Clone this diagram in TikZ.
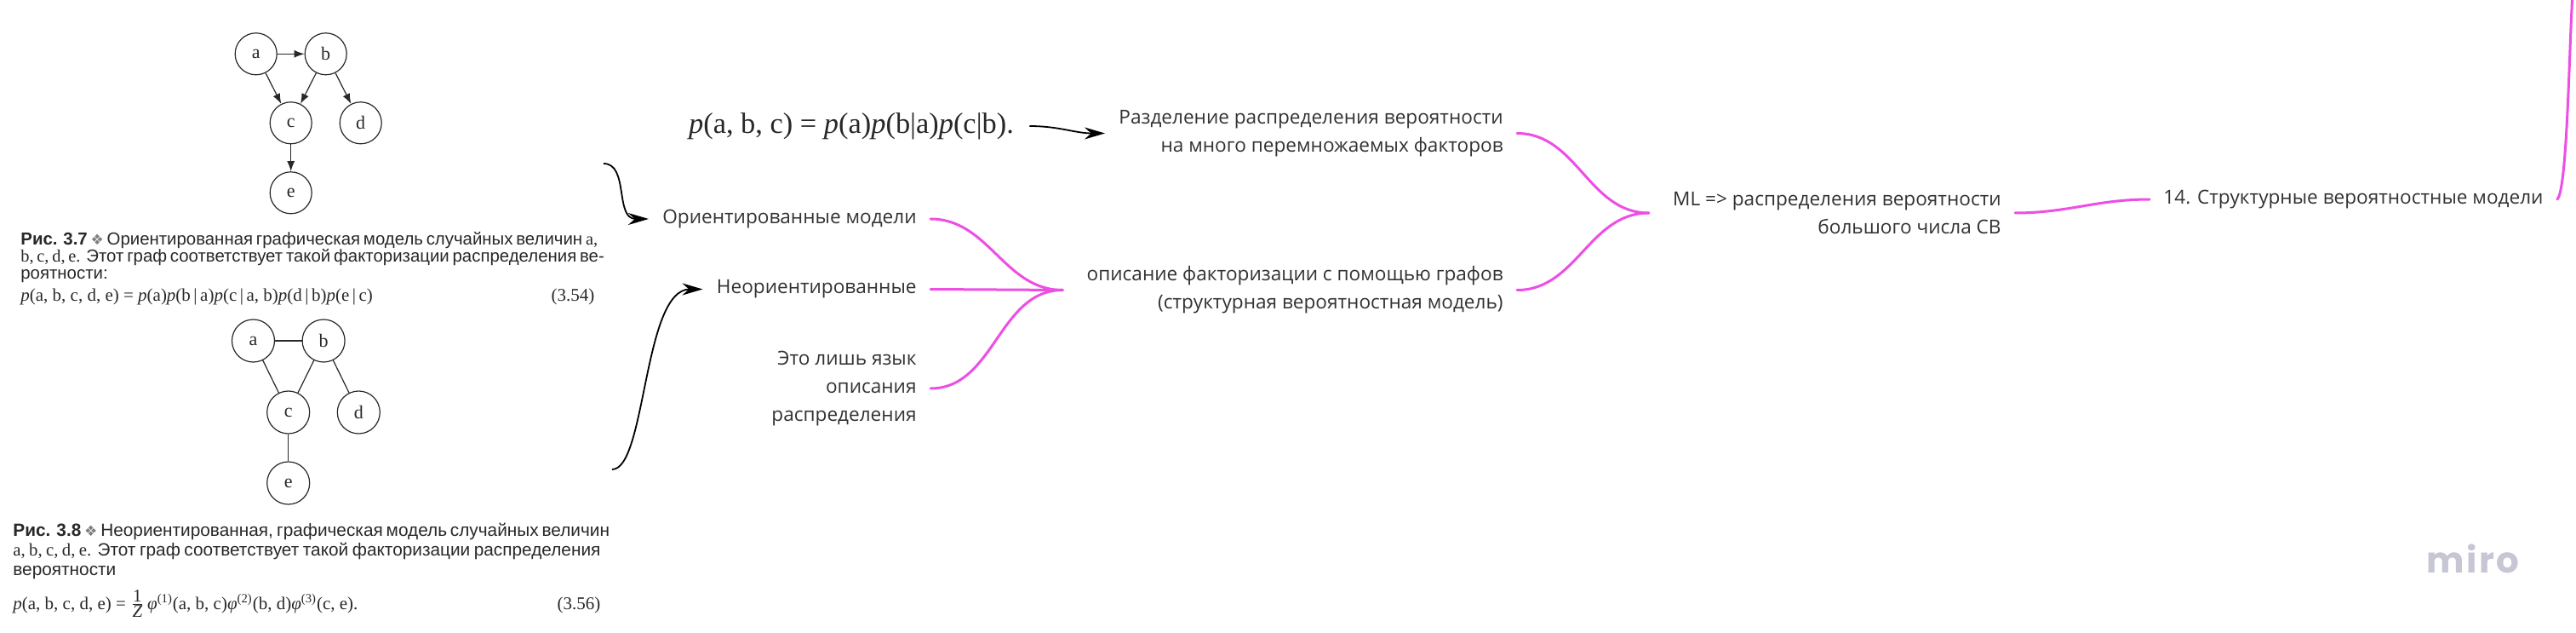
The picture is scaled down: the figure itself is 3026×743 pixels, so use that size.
\documentclass[tikz,border=0pt]{standalone}
\usepackage{fontspec}
\setmainfont{Liberation Serif}
\newfontfamily\mirofont{Open Sans}
\newfontfamily\booksans{Liberation Sans}
\newfontfamily\dingfont{DejaVu Sans}
\newfontfamily\logofont[LetterSpace=6]{Poppins}
\usetikzlibrary{positioning, arrows.meta}

\definecolor{mindpink}{RGB}{237,78,228}
\definecolor{mindtext}{RGB}{50,50,50}
\definecolor{scanink}{RGB}{40,40,40}
\definecolor{logogray}{RGB}{198,198,212}

\newcommand{\fullline}[2]{\makebox[#1][s]{#2}}
\newcommand{\dia}{{\dingfont\color{scanink!60}\fontsize{8.5}{8}\selectfont ❖}}

\tikzset{
    vert/.style={draw=scanink, circle, minimum size=24.5pt, inner sep=0pt, line width=0.6pt,
        text=scanink, font=\rmfamily\fontsize{11}{12}\selectfont},
    scanedge/.style={draw=scanink, line width=0.6pt},
    figcap/.style={align=left, inner sep=0pt, text=scanink, font=\booksans\fontsize{10.2}{10}\selectfont},
    eqn/.style={inner sep=0pt, text=scanink, font=\rmfamily\fontsize{10.5}{12}\selectfont},
    idea/.style={inner xsep=8pt, inner ysep=2pt, align=right, text=mindtext,
        font=\mirofont\fontsize{11.3}{16.4}\selectfont},
    branch/.style={draw=mindpink, line width=1.5pt, line cap=round},
    pointer/.style={draw=black, line width=0.9pt, -{Stealth[length=12pt,width=7pt]}},
}

\begin{document}
\begin{tikzpicture}[x=0.5pt, y=-0.5pt, >={Latex[length=6pt,width=4.5pt]}]
    \useasboundingbox (0,0) rectangle (3026,743);
    \fill[white] (0,0) rectangle (3026,743);

    % directed graph, fig. 3.7
    \begin{scope}[node distance=41pt, on grid]
        \node[vert] (da) at (300.7,63.3) {a};
        \node[vert, right=of da] (db) {b};
        \node[vert, below right=40.5pt and 20.5pt of da] (dc) {c};
        \node[vert, right=of dc] (dd) {d};
        \node[vert, below=of dc] (de) {e};
        \draw[scanedge, ->] (da) -- (db);
        \draw[scanedge, ->] (da) -- (dc);
        \draw[scanedge, ->] (db) -- (dc);
        \draw[scanedge, ->] (db) -- (dd);
        \draw[scanedge, ->] (dc) -- (de);
    \end{scope}

    \node[figcap, anchor=base west] (cap37) at (24,328) {%
        \fullline{337pt}{\textbf{Рис. 3.7} \dia\ Ориентированная графическая модель случайных величин {\rmfamily a,}}\\
        \fullline{337pt}{{\rmfamily b, c, d, e.} Этот граф соответствует такой факторизации распределения ве-}\\
        роятности:};
    \node[eqn, anchor=base west] (eq354) at (24,354) {\makebox[337pt]{\textit{p}(a, b, c, d, e) = \textit{p}(a)\textit{p}(b\,|\,a)\textit{p}(c\,|\,a, b)\textit{p}(d\,|\,b)\textit{p}(e\,|\,c)\hfill(3.54)}};

    % undirected graph, fig. 3.8
    \begin{scope}[node distance=41.3pt, on grid, vert/.append style={minimum size=25pt}]
        \node[vert] (ua) at (297.5,400) {a};
        \node[vert, right=of ua] (ub) {b};
        \node[vert, below right=42pt and 20.6pt of ua] (uc) {c};
        \node[vert, right=of uc] (ud) {d};
        \node[vert, below=41.5pt of uc] (ue) {e};
        \draw[scanedge] (ua) -- (ub);
        \draw[scanedge] (ua) -- (uc);
        \draw[scanedge] (ub) -- (uc);
        \draw[scanedge] (ub) -- (ud);
        \draw[scanedge] (uc) -- (ue);
    \end{scope}

    \node[figcap, anchor=base west, font=\booksans\fontsize{10.4}{11.5}\selectfont] (cap38) at (15,675) {%
        \fullline{345pt}{\textbf{Рис. 3.8} \dia\ Неориентированная, графическая модель случайных величин}\\
        \fullline{345pt}{{\rmfamily a, b, c, d, e.} Этот граф соответствует такой факторизации распределения}\\
        вероятности};
    \node[eqn, anchor=base west] (eq356) at (15,715) {\makebox[345pt]{\textit{p}(a, b, c, d, e) = $\frac{\hbox{1}}{\hbox{\itshape Z}}$\,\textit{φ}\textsuperscript{(1)}(a, b, c)\textit{φ}\textsuperscript{(2)}(b, d)\textit{φ}\textsuperscript{(3)}(c, e).\hfill(3.56)}};

    % scanned formula
    \node[eqn, inner xsep=9pt, font=\rmfamily\fontsize{17.2}{19}\selectfont] (factor) at (1000,148)
        {\textit{p}(a, b, c) = \textit{p}(a)\textit{p}(b|a)\textit{p}(c|b).};

    % mind map
    \node[idea, anchor=east] (razdel) at (1782,156.5) {Разделение распределения вероятности\\на много перемножаемых факторов};
    \node[idea, anchor=east] (opis) at (1782,340.5) {описание факторизации с помощью графов\\(структурная вероятностная модель)};
    \node[idea, anchor=east] (orient) at (1093,257) {Ориентированные модели};
    \node[idea, anchor=east] (neorient) at (1093,339.5) {Неориентированные};
    \node[idea, anchor=east] (lang) at (1093,456) {Это лишь язык\\описания\\распределения};
    \node[idea, anchor=east] (ml) at (2367,250) {ML => распределения вероятности\\большого числа СВ};
    \node[idea, anchor=west] (topic) at (2525,234) {14. Структурные вероятностные модели};
    \node[anchor=base, text=logogray, font=\logofont\bfseries\fontsize{21}{24}\selectfont] (logo) at (2905,672) {miro};

    \coordinate (fromdir) at (709,192);
    \coordinate (fromundir) at (719,551);
    \coordinate (offtop) at (3022,-8);

    % black arrows
    \draw[pointer] (fromdir) .. controls +(30,0) and +(-40,0) .. (orient.west);
    \draw[pointer] (fromundir) .. controls +(40,0) and +(-70,0) .. (neorient.west);
    \draw[pointer] (factor.east) to[out=0, in=180] (razdel.west);

    % branches
    \draw[branch] (orient.east) to[out=0, in=180] ([xshift=-6pt]opis.west);
    \draw[branch] (neorient.east) -- ([xshift=-6pt]opis.west);
    \draw[branch] (lang.east) to[out=0, in=180] ([xshift=-6pt]opis.west);
    \draw[branch] (razdel.east) to[out=0, in=180] ([xshift=-6pt]ml.west);
    \draw[branch] (opis.east) to[out=0, in=180] ([xshift=-6pt]ml.west);
    \draw[branch] (ml.east) to[out=0, in=180] (topic.west);
    \draw[branch] (topic.east) .. controls +(12,-10) and +(-4,60) .. (offtop);
\end{tikzpicture}
\end{document}
